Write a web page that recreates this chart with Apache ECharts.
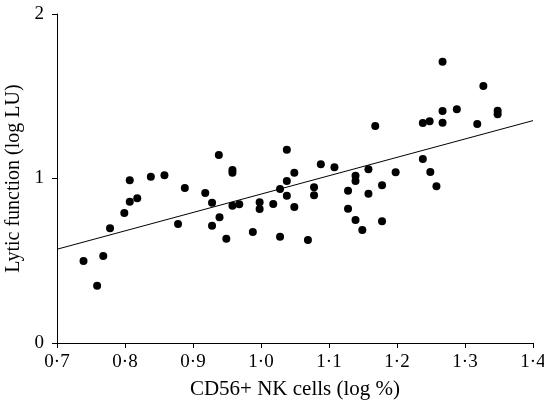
<!DOCTYPE html>
<html>
<head>
<meta charset="utf-8">
<script src="https://cdn.jsdelivr.net/npm/echarts@6/dist/echarts.min.js"></script>
<style>
  html, body { margin: 0; padding: 0; background: #fff; }
  #main { width: 544px; height: 404px; }
</style>
</head>
<body>
<div id="main"></div>
<script>
// NK cell percentage (log %) per subject
const nkCells = [
  0.739, 0.759, 0.768, 0.778, 0.799, 0.807, 0.807, 0.818, 0.838, 0.858,
  0.878, 0.888, 0.918, 0.928, 0.928, 0.939, 0.949, 0.958, 0.958, 0.958,
  0.968, 0.988, 0.998, 0.998, 1.018, 1.028, 1.028, 1.038, 1.038, 1.049,
  1.049, 0.938, 1.038, 1.088, 1.108, 1.139, 1.139, 1.158, 1.168, 1.198,
  1.238, 1.248, 1.238, 1.249, 1.267, 1.267, 1.267, 1.288, 1.318, 1.327,
  1.348, 1.348, 1.069, 1.078, 1.078, 1.128, 1.128, 1.139, 1.149, 1.158,
  1.178, 1.178, 1.258
];
// lytic function (log LU) per subject
const lytic = [
  0.498, 0.348, 0.529, 0.697, 0.790, 0.989, 0.859, 0.880, 1.011, 1.019,
  0.723, 0.942, 0.912, 0.853, 0.713, 0.764, 0.634, 1.052, 1.035, 0.835,
  0.843, 0.675, 0.855, 0.815, 0.845, 0.936, 0.646, 0.985, 0.895, 1.035,
  0.827, 1.143, 1.175, 1.086, 1.068, 1.017, 0.985, 1.056, 1.319, 1.038,
  1.337, 1.348, 1.119, 1.040, 1.710, 1.410, 1.339, 1.421, 1.331, 1.562,
  1.412, 1.390, 0.626, 0.947, 0.898, 0.926, 0.816, 0.748, 0.687, 0.908,
  0.959, 0.740, 0.953
];
// fitted regression line end points
const fitX = [0.7, 1.4];
const fitY = [0.57, 1.352];

const FONT = '"Liberation Serif", "Times New Roman", serif';

const chart = echarts.init(document.getElementById('main'));

const option = {
  backgroundColor: '#fff',
  animation: false,
  grid: {
    left: 57, right: 11, top: 14, bottom: 61,
    containLabel: false,
    outerBoundsMode: 'none' // keep the plot where it is, let "1·4" touch the edge
  },
  xAxis: {
    type: 'value',
    min: 0.7,
    max: 1.4,
    interval: 0.1,
    name: 'CD56+ NK cells (log %)',
    nameLocation: 'middle',
    nameGap: 36,
    nameTextStyle: { fontFamily: FONT, fontSize: 21, color: '#000' },
    axisLine: { show: true, lineStyle: { color: '#000', width: 1 } },
    axisTick: { show: true, length: 5, lineStyle: { color: '#000' } },
    axisLabel: {
      fontFamily: FONT, fontSize: 19, color: '#000', margin: 10,
      showMinLabel: true, showMaxLabel: true,
      formatter: v => v.toFixed(1).replace('.', '·')
    },
    splitLine: { show: false }
  },
  yAxis: {
    type: 'value',
    min: 0,
    max: 2,
    interval: 1,
    name: 'Lytic function (log LU)',
    nameLocation: 'middle',
    nameGap: 31,
    nameTextStyle: { fontFamily: FONT, fontSize: 20, color: '#000' },
    axisLine: { show: true, lineStyle: { color: '#000', width: 1 } },
    axisTick: { show: true, length: 5, lineStyle: { color: '#000' } },
    axisLabel: { fontFamily: FONT, fontSize: 19, color: '#000', margin: 13 },
    splitLine: { show: false }
  },
  series: [
    {
      type: 'scatter',
      symbol: 'circle',
      symbolSize: 8,
      itemStyle: { color: '#000', opacity: 1 },
      data: nkCells.map((x, i) => [x, lytic[i]])
    },
    {
      type: 'line',
      symbol: 'none',
      lineStyle: { color: '#000', width: 1 },
      data: fitX.map((x, i) => [x, fitY[i]])
    }
  ]
};

chart.setOption(option);
</script>
</body>
</html>
